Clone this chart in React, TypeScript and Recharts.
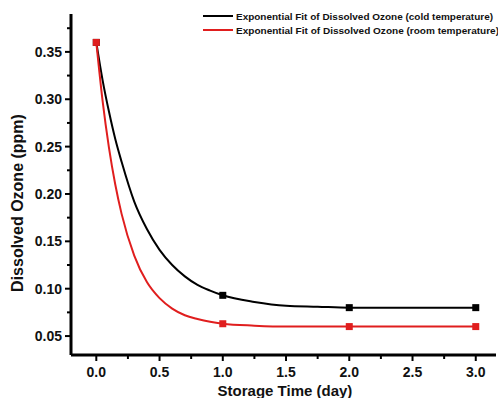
import React from 'react';
import { ComposedChart, Line, Scatter, XAxis, YAxis } from 'recharts';

// fitted curves
const fitTime = [0, 0.05, 0.1, 0.15, 0.2, 0.3, 0.4, 0.5, 0.6, 0.7, 0.8, 0.9, 1.0, 1.25, 1.5, 1.75, 2.0, 2.5, 3.0];
const coldFit = [0.36, 0.32, 0.287, 0.258, 0.234, 0.192, 0.163, 0.141, 0.125, 0.113, 0.104, 0.098, 0.093, 0.086, 0.082, 0.081, 0.08, 0.08, 0.08];
const roomFit = [0.36, 0.298, 0.249, 0.21, 0.179, 0.135, 0.107, 0.09, 0.079, 0.072, 0.068, 0.065, 0.063, 0.061, 0.06, 0.06, 0.06, 0.06, 0.06];

// measured points
const measuredTime = [0, 1, 2, 3];
const coldMeasured = [0.36, 0.093, 0.08, 0.08];
const roomMeasured = [0.36, 0.063, 0.06, 0.06];

const xTicks = [0, 0.25, 0.5, 0.75, 1, 1.25, 1.5, 1.75, 2, 2.25, 2.5, 2.75, 3];
const yTicks = [0.05, 0.075, 0.1, 0.125, 0.15, 0.175, 0.2, 0.225, 0.25, 0.275, 0.3, 0.325, 0.35, 0.375];

const legendLabels = [
  'Exponential Fit of Dissolved Ozone (cold temperature)',
  'Exponential Fit of Dissolved Ozone (room temperature)',
];

const RED = '#e01e1e';
const FONT = 'Arial, "Liberation Sans", sans-serif';

const fitData = fitTime.map((t, i) => ({ t, cold: coldFit[i], room: roomFit[i] }));
const coldPts = measuredTime.map((t, i) => ({ t, v: coldMeasured[i] }));
const roomPts = measuredTime.map((t, i) => ({ t, v: roomMeasured[i] }));

const isMajor = (v: number, step: number) => Math.abs(v / step - Math.round(v / step)) < 1e-6;

const XTick = (props: any) => {
  const { x, y, payload } = props;
  const major = isMajor(payload.value, 0.5);
  return (
    <g>
      <line x1={x} x2={x} y1={y} y2={y + (major ? 6 : 4)} stroke="#000" strokeWidth={2} />
      {major && (
        <text x={x} y={y + 22} textAnchor="middle" fontSize={14} fontWeight="bold" fontFamily={FONT} fill="#111">
          {payload.value.toFixed(1)}
        </text>
      )}
    </g>
  );
};

const YTick = (props: any) => {
  const { x, y, payload } = props;
  const major = isMajor(payload.value, 0.05);
  return (
    <g>
      <line x1={x} x2={x - (major ? 6 : 4)} y1={y} y2={y} stroke="#000" strokeWidth={2} />
      {major && (
        <text x={x - 9} y={y + 5} textAnchor="end" fontSize={14} fontWeight="bold" fontFamily={FONT} fill="#111">
          {payload.value.toFixed(2)}
        </text>
      )}
    </g>
  );
};

const squareShape = (color: string) => (props: any) => (
  <rect x={props.cx - 3.5} y={props.cy - 3.5} width={7} height={7} fill={color} />
);

export default function App() {
  return (
    <div style={{ position: 'absolute', left: 0, top: 0, width: 498, height: 398, background: '#fff', overflow: 'hidden' }}>
      <ComposedChart width={498} height={398} margin={{ top: 14, right: 2, left: 0, bottom: 0 }}>
        <XAxis
          type="number"
          dataKey="t"
          domain={[-0.2, 3.16]}
          ticks={xTicks}
          tick={<XTick />}
          tickSize={0}
          tickMargin={0}
          height={43}
          interval={0}
          allowDataOverflow
          stroke="#000"
          strokeWidth={3}
        />
        <YAxis
          type="number"
          domain={[0.03, 0.39]}
          ticks={yTicks}
          tick={<YTick />}
          tickSize={0}
          tickMargin={0}
          width={71}
          interval={0}
          allowDataOverflow
          stroke="#000"
          strokeWidth={3}
        />
        <Line data={fitData} dataKey="cold" type="monotone" stroke="#000" strokeWidth={2} dot={false} isAnimationActive={false} />
        <Line data={fitData} dataKey="room" type="monotone" stroke={RED} strokeWidth={2} dot={false} isAnimationActive={false} />
        <Scatter data={coldPts} dataKey="v" shape={squareShape('#000')} isAnimationActive={false} />
        <Scatter data={roomPts} dataKey="v" shape={squareShape(RED)} isAnimationActive={false} />
      </ComposedChart>
      <svg width={498} height={398} style={{ position: 'absolute', left: 0, top: 0, pointerEvents: 'none' }}>
        {legendLabels.map((label, i) => (
          <g key={label}>
            <line x1={203} x2={233} y1={16 + i * 14} y2={16 + i * 14} stroke={i === 0 ? '#000' : RED} strokeWidth={2} />
            <text
              x={236}
              y={19.5 + i * 14}
              fontSize={9.5}
              fontWeight="bold"
              fontFamily={FONT}
              fill="#111"
              textLength={i === 0 ? 257 : 263}
              lengthAdjust="spacingAndGlyphs"
            >
              {label}
            </text>
          </g>
        ))}
        <text x={285} y={396} textAnchor="middle" fontSize={15} fontWeight="bold" fontFamily={FONT} fill="#111">
          Storage Time (day)
        </text>
        <text
          x={0}
          y={0}
          transform="translate(23,203) rotate(-90)"
          textAnchor="middle"
          fontSize={16}
          fontWeight="bold"
          fontFamily={FONT}
          fill="#111"
        >
          Dissolved Ozone (ppm)
        </text>
      </svg>
    </div>
  );
}
